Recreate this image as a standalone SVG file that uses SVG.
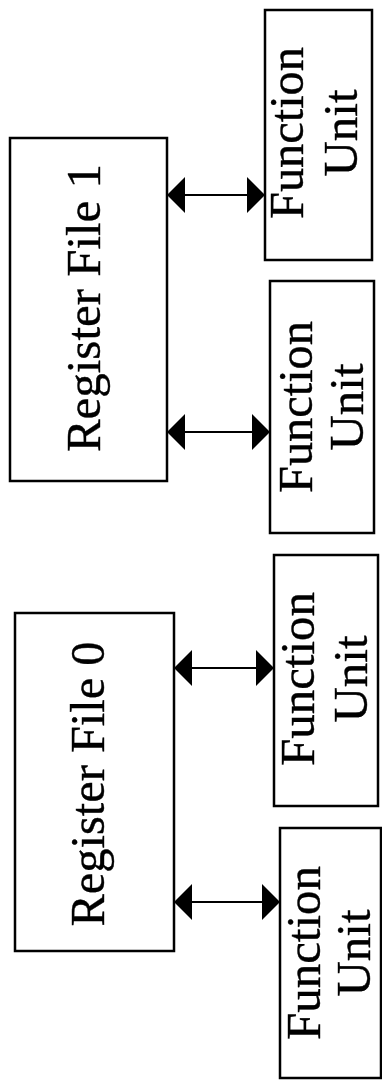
<svg xmlns="http://www.w3.org/2000/svg" width="382" height="1080" viewBox="0 0 382 1080">
<style>
.box{fill:#fff;stroke:#000;stroke-width:2.5}
.lbl{font-family:"Liberation Serif","Times New Roman",serif;font-size:49px;fill:#000;stroke:#000;stroke-width:0.4;text-anchor:middle}
.conn{stroke:#000;stroke-width:2;fill:none;marker-start:url(#ah);marker-end:url(#ah)}
</style>
<defs>
<marker id="ah" viewBox="0 0 18 36" refX="18" refY="18" markerWidth="18" markerHeight="36" markerUnits="userSpaceOnUse" orient="auto-start-reverse">
<path d="M0,0 L18,18 L0,36 z" fill="#000"/>
</marker>
</defs>
<rect width="382" height="1080" fill="#fff"/>
<g id="rf1">
<rect class="box" x="10" y="138" width="157" height="343"/>
<text class="lbl" transform="translate(100,308) rotate(-90)" textLength="288" lengthAdjust="spacingAndGlyphs">Register File 1</text>
</g>
<g id="rf0">
<rect class="box" x="15" y="613" width="159" height="338"/>
<text class="lbl" transform="translate(104,784) rotate(-90)" textLength="285" lengthAdjust="spacingAndGlyphs">Register File 0</text>
</g>
<g id="fu1">
<rect class="box" x="265" y="10" width="107" height="250"/>
<text class="lbl" transform="translate(303,133) rotate(-90)" textLength="172" lengthAdjust="spacingAndGlyphs">Function</text>
<text class="lbl" transform="translate(357,133) rotate(-90)">Unit</text>
</g>
<g id="fu2">
<rect class="box" x="270" y="281" width="104" height="252"/>
<text class="lbl" transform="translate(312,407) rotate(-90)" textLength="172" lengthAdjust="spacingAndGlyphs">Function</text>
<text class="lbl" transform="translate(363,407) rotate(-90)">Unit</text>
</g>
<g id="fu3">
<rect class="box" x="274" y="555" width="104" height="251"/>
<text class="lbl" transform="translate(314,679) rotate(-90)" textLength="174" lengthAdjust="spacingAndGlyphs">Function</text>
<text class="lbl" transform="translate(367,679) rotate(-90)">Unit</text>
</g>
<g id="fu4">
<rect class="box" x="280" y="828" width="101" height="250"/>
<text class="lbl" transform="translate(320,953) rotate(-90)" textLength="174" lengthAdjust="spacingAndGlyphs">Function</text>
<text class="lbl" transform="translate(370,953) rotate(-90)">Unit</text>
</g>
<g id="connectors">
<line class="conn" x1="167" y1="195" x2="265" y2="195"/>
<line class="conn" x1="167" y1="432" x2="270" y2="432"/>
<line class="conn" x1="174" y1="668" x2="274" y2="668"/>
<line class="conn" x1="174" y1="902" x2="280" y2="902"/>
</g>
</svg>
